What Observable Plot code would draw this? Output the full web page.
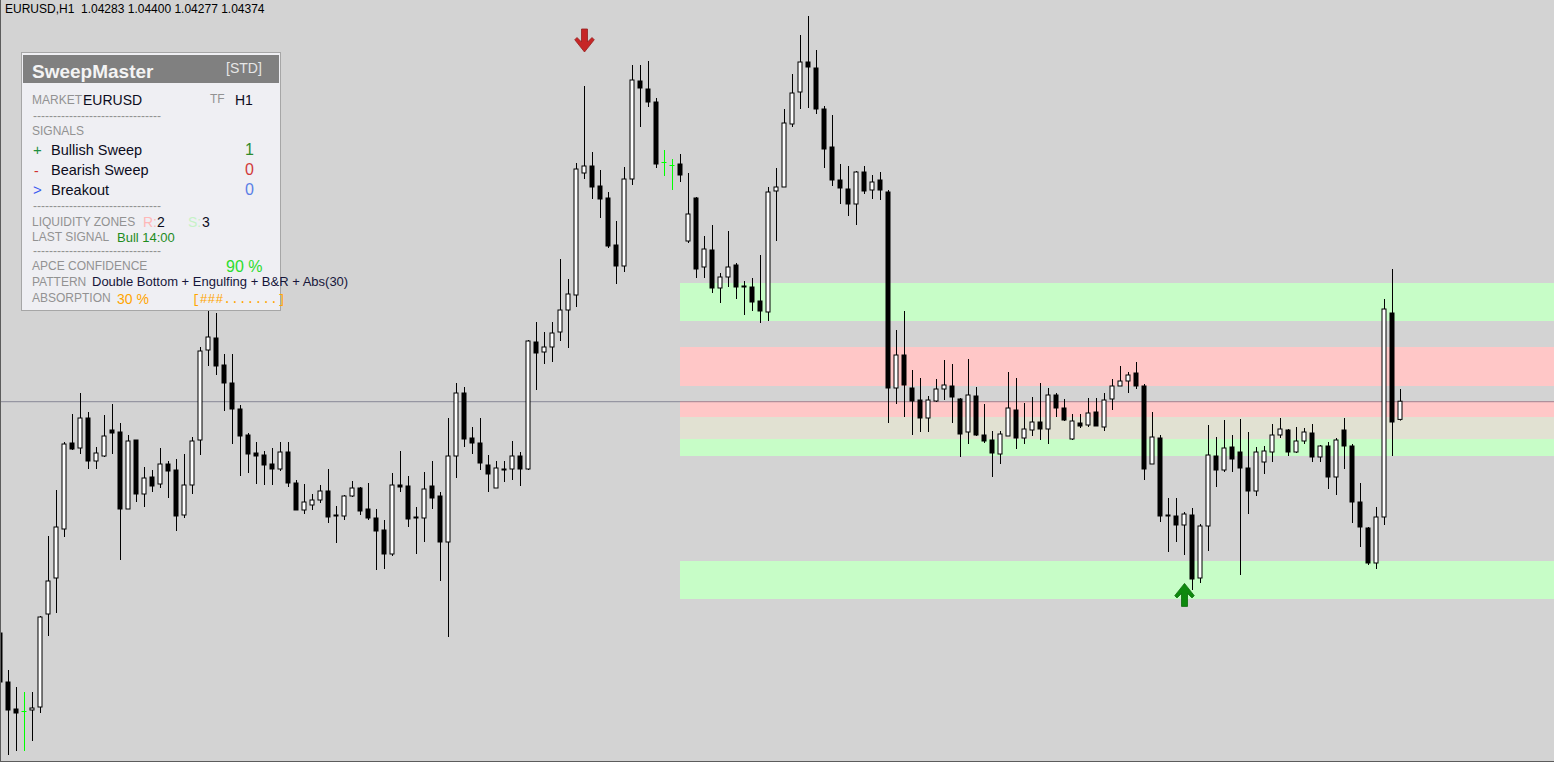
<!DOCTYPE html>
<html>
<head>
<meta charset="utf-8">
<script src="https://cdn.jsdelivr.net/npm/d3@7"></script>
<script src="https://cdn.jsdelivr.net/npm/@observablehq/plot@0.6"></script>
<style>
html, body { margin:0; padding:0; background:#d3d3d3; overflow:hidden; }
#wrap { position:relative; width:1554px; height:762px; overflow:hidden; }
#wrap svg { display:block; }
.t { position:absolute; white-space:pre; line-height:1; }
#frame { position:absolute; left:0; top:0; width:1554px; height:762px; box-sizing:border-box; border-left:1px solid #5c5c5c; border-bottom:1px solid #5c5c5c; pointer-events:none; }
#panel { position:absolute; left:21px; top:52px; width:258px; height:257px; background:#efeff3; border:1px solid #a6a6a6; }
#phead { position:absolute; left:23px; top:55px; width:256px; height:28px; background:#808080; }
</style>
</head>
<body>
<div id="wrap"></div>
<script>
// ---------- DATA (EURUSD H1) ----------
const symbolName = "EURUSD";
const timeframe = "H1";

const opens = [
1.03215,1.02970,1.02835,1.02825,1.02830,1.02845,1.03310,1.03490,1.03735,1.04165,
1.04140,1.04290,1.04075,1.04100,1.04230,1.04220,1.03835,1.04180,1.03910,1.03995,
1.03960,1.04060,1.04030,1.03805,1.03955,1.04180,1.04630,1.04690,1.04555,1.04465,
1.04335,1.04205,1.04115,1.04105,1.04060,1.04035,1.04120,1.03965,1.03830,1.03855,
1.03880,1.03925,1.03805,1.03800,1.03900,1.03940,1.03835,1.03790,1.03730,1.03610,
1.03955,1.03950,1.03795,1.03790,1.03950,1.03900,1.03670,1.04100,1.04415,1.04190,
1.04165,1.04055,1.03940,1.04035,1.04035,1.04100,1.04035,1.04670,1.04620,1.04645,
1.04720,1.04830,1.04905,1.05515,1.05550,1.05450,1.05390,1.05155,1.05050,1.05485,
1.05975,1.05935,1.05870,1.05570,1.05555,1.05560,1.05175,1.05390,1.05045,1.05130,
1.04940,1.04995,1.05055,1.04950,1.04945,1.04875,1.04820,1.05425,1.05445,1.05760,
1.05920,1.06070,1.06040,1.05835,1.05645,1.05480,1.05435,1.05360,1.05520,1.05430,
1.05480,1.05420,1.04440,1.04605,1.04440,1.04380,1.04290,1.04375,1.04435,1.04450,
1.04385,1.04220,1.04400,1.04205,1.04180,1.04110,1.04200,1.04330,1.04190,1.04230,
1.04270,1.04235,1.04405,1.04340,1.04185,1.04265,1.04255,1.04320,1.04245,1.04385,
1.04450,1.04475,1.04515,1.04450,1.04060,1.04190,1.03805,1.03800,1.03755,1.03805,
1.03490,1.03750,1.04100,1.04030,1.04145,1.04120,1.04040,1.03925,1.04070,1.04120,
1.04205,1.04230,1.04120,1.04175,1.04215,1.04095,1.04150,1.03995,1.04230,1.04150,
1.03870,1.03740,1.03565,1.03795,1.04815,1.04283];

const highs = [
1.03250,1.03030,1.02945,1.02920,1.02920,1.03300,1.03700,1.03930,1.04170,1.04310,
1.04415,1.04320,1.04145,1.04305,1.04360,1.04265,1.04205,1.04180,1.04045,1.04030,
1.04140,1.04075,1.04085,1.04110,1.04195,1.04645,1.04855,1.04815,1.04610,1.04610,
1.04355,1.04215,1.04170,1.04125,1.04140,1.04170,1.04170,1.03980,1.03960,1.03910,
1.03955,1.04035,1.03850,1.03905,1.03975,1.03945,1.03965,1.03835,1.03780,1.04015,
1.04125,1.04000,1.03845,1.04020,1.04075,1.03920,1.04290,1.04465,1.04445,1.04245,
1.04290,1.04105,1.04075,1.04075,1.04175,1.04120,1.04680,1.04770,1.04720,1.04770,
1.05085,1.04985,1.05565,1.05950,1.05620,1.05530,1.05420,1.05275,1.05545,1.06055,
1.06055,1.06075,1.05890,1.05630,1.05585,1.05610,1.05515,1.05395,1.05200,1.05255,
1.05015,1.05225,1.05065,1.04975,1.04990,1.05105,1.05445,1.05540,1.05835,1.06010,
1.06205,1.06300,1.06130,1.05850,1.05805,1.05560,1.05550,1.05525,1.05550,1.05505,
1.05520,1.05430,1.04730,1.04825,1.04530,1.04490,1.04400,1.04485,1.04580,1.04560,
1.04390,1.04585,1.04445,1.04360,1.04225,1.04225,1.04520,1.04490,1.04365,1.04395,
1.04465,1.04440,1.04415,1.04385,1.04310,1.04310,1.04390,1.04390,1.04415,1.04485,
1.04550,1.04520,1.04570,1.04460,1.04320,1.04205,1.03890,1.03890,1.03820,1.03840,
1.03760,1.04255,1.04195,1.04280,1.04205,1.04285,1.04220,1.04145,1.04150,1.04260,
1.04290,1.04235,1.04245,1.04240,1.04260,1.04155,1.04170,1.04190,1.04290,1.04160,
1.03965,1.03745,1.03845,1.04885,1.05035,1.04435];

const lows = [
1.02930,1.02605,1.02625,1.02625,1.02675,1.02815,1.03200,1.03315,1.03695,1.04130,
1.04110,1.04035,1.04035,1.04095,1.04110,1.03580,1.03835,1.03870,1.03845,1.03920,
1.03940,1.03890,1.03725,1.03790,1.03910,1.04105,1.04550,1.04505,1.04325,1.04160,
1.04000,1.04015,1.03960,1.03955,1.03955,1.04025,1.03945,1.03830,1.03810,1.03830,
1.03865,1.03765,1.03665,1.03780,1.03895,1.03805,1.03780,1.03530,1.03535,1.03600,
1.03920,1.03745,1.03610,1.03670,1.03835,1.03475,1.03195,1.03990,1.04145,1.04110,
1.04030,1.03920,1.03940,1.03970,1.03980,1.03950,1.04030,1.04430,1.04560,1.04570,
1.04675,1.04640,1.04845,1.05485,1.05385,1.05290,1.05140,1.04960,1.05020,1.05455,
1.05745,1.05845,1.05540,1.05500,1.05430,1.05470,1.05165,1.04990,1.04990,1.04915,
1.04865,1.04945,1.04885,1.04805,1.04825,1.04765,1.04775,1.05175,1.05445,1.05745,
1.05835,1.05840,1.05810,1.05540,1.05450,1.05360,1.05300,1.05255,1.05410,1.05385,
1.05380,1.04265,1.04360,1.04295,1.04205,1.04220,1.04220,1.04370,1.04380,1.04265,
1.04095,1.04160,1.04200,1.04165,1.03995,1.04060,1.04200,1.04135,1.04160,1.04200,
1.04180,1.04160,1.04295,1.04275,1.04180,1.04240,1.04245,1.04250,1.04225,1.04330,
1.04450,1.04415,1.04435,1.03980,1.04060,1.03770,1.03620,1.03670,1.03605,1.03430,
1.03465,1.03625,1.03945,1.04020,1.04020,1.03505,1.03810,1.03900,1.04010,1.04070,
1.04190,1.04100,1.04115,1.04160,1.04070,1.04070,1.03935,1.03905,1.04035,1.03765,
1.03645,1.03555,1.03535,1.03755,1.04100,1.04277];

const closes = [
1.02970,1.02830,1.02815,1.02825,1.02840,1.03295,1.03475,1.03745,1.04160,1.04135,
1.04290,1.04075,1.04115,1.04200,1.04215,1.03835,1.04175,1.03910,1.03990,1.03950,
1.04060,1.04025,1.03800,1.03955,1.04175,1.04625,1.04695,1.04550,1.04465,1.04335,
1.04200,1.04110,1.04100,1.04055,1.04035,1.04120,1.03965,1.03830,1.03870,1.03880,
1.03925,1.03795,1.03800,1.03900,1.03940,1.03825,1.03790,1.03725,1.03610,1.03955,
1.03945,1.03785,1.03790,1.03935,1.03890,1.03670,1.04100,1.04415,1.04185,1.04165,
1.04065,1.04010,1.04040,1.04030,1.04100,1.04035,1.04675,1.04615,1.04645,1.04715,
1.04830,1.04910,1.05535,1.05550,1.05445,1.05385,1.05150,1.05050,1.05485,1.05980,
1.05940,1.05870,1.05560,1.05570,1.05555,1.05505,1.05310,1.05035,1.05135,1.04940,
1.04995,1.05045,1.04945,1.04945,1.04870,1.04825,1.05420,1.05445,1.05765,1.05915,
1.06070,1.06045,1.05835,1.05635,1.05480,1.05440,1.05360,1.05520,1.05425,1.05470,
1.05430,1.04440,1.04605,1.04455,1.04375,1.04290,1.04380,1.04435,1.04455,1.04395,
1.04210,1.04405,1.04205,1.04175,1.04115,1.04210,1.04340,1.04190,1.04235,1.04270,
1.04235,1.04405,1.04340,1.04280,1.04275,1.04250,1.04315,1.04250,1.04380,1.04450,
1.04475,1.04505,1.04450,1.04035,1.04195,1.03800,1.03800,1.03755,1.03810,1.03485,
1.03750,1.04105,1.04030,1.04140,1.04085,1.04040,1.03925,1.04120,1.04125,1.04205,
1.04235,1.04120,1.04175,1.04220,1.04095,1.04150,1.03995,1.04180,1.04150,1.03870,
1.03745,1.03565,1.03795,1.04835,1.04270,1.04374];

// liquidity zones (R = resistance, S = support)
const zoneKind  = ["S", "R", "R", "S", "S"];
const zoneHigh  = [1.04965, 1.04645, 1.04375, 1.04295, 1.03575];
const zoneLow   = [1.04775, 1.04450, 1.04185, 1.04100, 1.03385];
const zoneStart = [85, 85, 85, 85, 85];

// sweep signals (arrows)
const signalBar   = [73, 148];
const signalPrice = [1.06180, 1.03408];
const signalType  = ["bear", "bull"];

// ---------- BUILD ----------
const W = 1554, H = 762;
const n = opens.length;
const bars = d3.range(n).map(i => ({i, o: opens[i], h: highs[i], l: lows[i], c: closes[i]}));
const dojis = bars.filter(d => d.o === d.c);
const bodies = bars.filter(d => d.o !== d.c);
const bulls = bodies.filter(d => d.c > d.o);
const bears = bodies.filter(d => d.c < d.o);

const xMax = W / 8;       // 8 px per bar
const xDomain = [0, xMax];
const yDomain = [1.02570, 1.06380];

const zones = zoneKind.map((k, j) => ({k, hi: zoneHigh[j], lo: zoneLow[j], s: zoneStart[j]}));
const overlaps = [];
zones.filter(z => z.k === "R").forEach(r => zones.filter(z => z.k === "S").forEach(s => {
  const lo = Math.max(r.lo, s.lo), hi = Math.min(r.hi, s.hi);
  if (lo < hi) overlaps.push({lo, hi, s: Math.max(r.s, s.s)});
}));

const signals = signalBar.map((b, j) => ({i: b, p: signalPrice[j], t: signalType[j]}));

const arrowPts = [[-3,-11.5],[3,-11.5],[3,1.5],[7.5,-3],[9.75,-0.75],[0,11.5],[-9.75,-0.75],[-7.5,-3],[-3,1.5]];
const makeArrow = (dir) => ({
  draw(ctx) {
    arrowPts.forEach(([px, py], k) => k ? ctx.lineTo(px, dir * py) : ctx.moveTo(px, dir * py));
    ctx.closePath();
  }
});
const arrowDown = makeArrow(1), arrowUp = makeArrow(-1);

const lastPrice = closes[n - 1];
const bw = 0.25; // half body width in bars

const chart = Plot.plot({
  width: W, height: H,
  margin: 0,
  x: {type: "linear", domain: xDomain, range: [0, W], axis: null},
  y: {type: "linear", domain: yDomain, range: [H, 0], axis: null},
  style: {background: "#d3d3d3"},
  marks: [
    Plot.rect(zones.filter(z => z.k === "S"), {x1: "s", x2: () => xMax, y1: "lo", y2: "hi", fill: "#c7fdc7", shapeRendering: "crispEdges"}),
    Plot.rect(zones.filter(z => z.k === "R"), {x1: "s", x2: () => xMax, y1: "lo", y2: "hi", fill: "#ffc7c7", shapeRendering: "crispEdges"}),
    Plot.rect(overlaps, {x1: "s", x2: () => xMax, y1: "lo", y2: "hi", fill: "#e1e1d2", shapeRendering: "crispEdges"}),
    Plot.ruleY([lastPrice], {stroke: "#4a4a66", strokeOpacity: 0.55, strokeWidth: 1}),
    Plot.ruleX(bodies, {x: "i", y1: "l", y2: "h", stroke: "#000", strokeWidth: 1}),
    Plot.ruleX(dojis, {x: "i", y1: "l", y2: "h", stroke: "#00ff00", strokeWidth: 1}),
    Plot.ruleY(dojis, {y: "o", x1: d => d.i - 0.3125, x2: d => d.i + 0.3125, stroke: "#00ff00", strokeWidth: 1}),
    Plot.rect(bulls, {x1: d => d.i - bw, x2: d => d.i + bw, y1: "o", y2: "c", fill: "#fff", stroke: "#000", strokeWidth: 1}),
    Plot.rect(bears, {x1: d => d.i - bw, x2: d => d.i + bw, y1: "o", y2: "c", fill: "#000", stroke: "#000", strokeWidth: 1}),
    Plot.dot(signals.filter(d => d.t === "bear"), {x: "i", y: "p", r: 1, symbol: arrowDown, fill: "#c62626", stroke: "#962020", strokeWidth: 0.8}),
    Plot.dot(signals.filter(d => d.t === "bull"), {x: "i", y: "p", r: 1, symbol: arrowUp, fill: "#0d890d", stroke: "#0a6a0a", strokeWidth: 0.8})
  ]
});

const wrap = document.getElementById("wrap");
wrap.appendChild(chart);

// ---------- OVERLAY TEXT / PANEL ----------
function box(id) { const d = document.createElement("div"); d.id = id; wrap.appendChild(d); return d; }
function label(txt, x, base, size, color, opts = {}) {
  const mono = !!opts.mono;
  const fam = mono ? "'Liberation Mono','Courier New',monospace" : "'Liberation Sans',Arial,sans-serif";
  const asc = mono ? 0.7665 : 0.8465;
  const s = document.createElement("div");
  s.className = "t";
  s.textContent = txt;
  s.style.left = x + "px";
  s.style.top = (base - asc * size) + "px";
  s.style.fontFamily = fam;
  s.style.fontSize = size + "px";
  s.style.fontWeight = opts.bold ? "bold" : "normal";
  s.style.color = color;
  wrap.appendChild(s);
  return s;
}

box("frame");
const f = d3.format(".5f");
label(`${symbolName},${timeframe}  ${f(opens[n-1])} ${f(1.04400)} ${f(lows[n-1])} ${f(closes[n-1])}`, 5, 13.5, 12, "#000");

box("panel");
box("phead");
const G = "#929292", K = "#0c0c1c";
const dash = "--------------------------------";
label("SweepMaster", 32, 78.5, 19, "#f4f4f4", {bold: true});
label("[STD]", 226, 73, 14, "#e6e6e6");
label("MARKET", 32, 104, 12, G);
label(symbolName, 83, 104.5, 14, K);
label("TF", 210, 103.3, 12, G);
label(timeframe, 235, 104.5, 14, K);
label(dash, 33, 120, 12, G);
label("SIGNALS", 32, 135, 12, G);
label("+", 33, 155, 15, "#1f8f3f");
label("Bullish Sweep", 51, 155, 14.5, K);
label("1", 245, 156, 16, "#2e8b2e");
label("-", 34, 175.5, 14, "#d03030");
label("Bearish Sweep", 51, 175, 14.5, K);
label("0", 245, 176, 16, "#d23a3a");
label(">", 33, 194.5, 15, "#3b5bf0");
label("Breakout", 51, 195, 14.5, K);
label("0", 245, 196, 16, "#5b7fe6");
label(dash, 33, 210.5, 12, G);
label("LIQUIDITY ZONES", 32, 226, 12, G);
label("R:", 143, 226.5, 14, "#ffb8b8");
label(String(zoneKind.filter(k => k === "R").length), 157, 226.5, 14, K);
label("S:", 188, 226.5, 14, "#c6f2c6");
label(String(zoneKind.filter(k => k === "S").length), 202, 226.5, 14, K);
label("LAST SIGNAL", 32, 241, 12, G);
label("Bull 14:00", 117, 242, 13, "#1e8c1e");
label(dash, 33, 255, 12, G);
label("APCE CONFIDENCE", 32, 270, 12, G);
label("90 %", 226, 272.5, 16, "#2ddc2d");
label("PATTERN", 32, 286, 12, G);
label("Double Bottom + Engulfing + B&R + Abs(30)", 92, 286, 13, "#16163a");
label("ABSORPTION", 32, 302.5, 12, G);
label("30 %", 117, 303.5, 14, "#ffa500");
label("[###.......]", 192, 303, 13, "#ffa500", {mono: true});
</script>
</body>
</html>
